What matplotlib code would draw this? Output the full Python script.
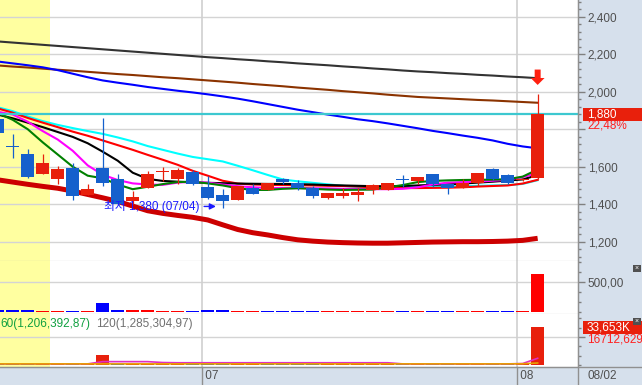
import numpy as np
import matplotlib.pyplot as plt
import matplotlib.transforms as mtransforms
from matplotlib.patches import Rectangle
from matplotlib.lines import Line2D
from matplotlib.ticker import MultipleLocator, FuncFormatter, FixedLocator

plt.rcParams['font.family'] = ['Liberation Sans', 'Noto Sans CJK KR', 'DejaVu Sans']

# daily candles, index 0 is cut off at the left edge, last one is 08/02
opens = [1853, 1708, 1666, 1563, 1536, 1594, 1448, 1594, 1533, 1418, 1485, 1570, 1533,
         1573, 1492, 1449, 1421, 1485, 1474, 1536, 1515, 1485, 1432, 1444, 1449, 1474,
         1474, 1531, 1524, 1563, 1506, 1488, 1515, 1587, 1556, 1530, 1540]
highs = [1865, 1772, 1697, 1666, 1603, 1619, 1509, 1860, 1559, 1471, 1577, 1598, 1594,
         1585, 1550, 1480, 1497, 1506, 1512, 1541, 1529, 1497, 1462, 1485, 1485, 1509,
         1513, 1556, 1545, 1563, 1506, 1533, 1566, 1594, 1563, 1540, 1990]
lows = [1775, 1648, 1538, 1563, 1509, 1423, 1448, 1497, 1395, 1400, 1485, 1524, 1506,
        1500, 1427, 1380, 1421, 1453, 1474, 1506, 1474, 1435, 1427, 1432, 1418, 1456,
        1474, 1492, 1509, 1492, 1456, 1485, 1497, 1530, 1506, 1525, 1535]
closes = [1779, 1704, 1545, 1619, 1586, 1444, 1483, 1515, 1401, 1439, 1563, 1575, 1581,
          1506, 1435, 1418, 1497, 1456, 1512, 1518, 1485, 1444, 1462, 1462, 1465, 1503,
          1513, 1527, 1545, 1506, 1488, 1515, 1566, 1536, 1515, 1535, 1880]

# moving averages
ma_gray = [2268, 2262, 2256, 2250, 2244, 2238, 2232, 2226, 2220, 2214, 2208, 2202, 2196,
           2190, 2184, 2179, 2173, 2168, 2162, 2157, 2151, 2146, 2141, 2135, 2130, 2124,
           2119, 2113, 2108, 2104, 2099, 2095, 2090, 2086, 2081, 2077, 2072]
ma_brown = [2140, 2134, 2129, 2123, 2117, 2112, 2106, 2100, 2094, 2089, 2083, 2077, 2072,
            2066, 2060, 2054, 2048, 2041, 2035, 2029, 2022, 2016, 2010, 2003, 1997, 1991,
            1984, 1978, 1972, 1968, 1964, 1960, 1956, 1953, 1949, 1945, 1941]
ma_blue = [2161, 2151, 2141, 2130, 2115, 2096, 2077, 2060, 2048, 2037, 2025, 2015, 2005,
           1996, 1986, 1975, 1963, 1949, 1934, 1919, 1904, 1891, 1878, 1866, 1853, 1843,
           1831, 1818, 1805, 1791, 1779, 1766, 1754, 1740, 1722, 1708, 1698]
ma_cyan = [1917, 1896, 1868, 1843, 1823, 1806, 1790, 1775, 1756, 1735, 1710, 1690, 1670,
           1652, 1640, 1628, 1605, 1581, 1556, 1532, 1522, 1514, 1506, 1498, 1492, 1490,
           1490, 1490, 1492, 1494, 1495, 1496, 1498, 1500, 1502, 1508, 1528]
ma_red = [1911, 1888, 1860, 1835, 1811, 1787, 1765, 1740, 1715, 1690, 1663, 1637, 1610,
          1578, 1552, 1525, 1510, 1505, 1503, 1502, 1501, 1500, 1498, 1497, 1494, 1490,
          1487, 1486, 1486, 1487, 1488, 1490, 1494, 1497, 1500, 1510, 1530]
ma_black = [1878, 1858, 1835, 1811, 1785, 1759, 1725, 1680, 1632, 1568, 1535, 1524, 1520,
            1516, 1514, 1512, 1510, 1509, 1508, 1508, 1507, 1505, 1502, 1500, 1498, 1496,
            1496, 1497, 1500, 1503, 1506, 1510, 1515, 1520, 1526, 1532, 1555]
ma_magenta = [1893, 1878, 1840, 1790, 1745, 1685, 1607, 1557, 1529, 1511, 1505, 1503, 1515,
              1520, 1515, 1505, 1496, 1490, 1487, 1486, 1486, 1485, 1484, 1482, 1481, 1480,
              1480, 1482, 1490, 1505, 1515, 1518, 1520, 1525, 1530, 1545, 1565]
ma_green = [1886, 1850, 1800, 1730, 1665, 1600, 1552, 1538, 1505, 1480, 1493, 1507, 1518,
            1520, 1511, 1500, 1485, 1476, 1476, 1482, 1485, 1482, 1478, 1476, 1477, 1478,
            1490, 1502, 1518, 1524, 1527, 1529, 1530, 1531, 1533, 1547, 1585]
ma_thick = [1530, 1518, 1506, 1495, 1485, 1470, 1452, 1434, 1415, 1390, 1365, 1351, 1340,
            1330, 1316, 1290, 1265, 1248, 1236, 1222, 1210, 1203, 1198, 1195, 1193, 1192,
            1192, 1194, 1196, 1198, 1199, 1200, 1200, 1201, 1203, 1207, 1218]

# middle panel
panel2 = [35, 35, 35, 18, 18, 18, 18, 160, 35, 35, 35, 18, 18, 18, 35, 35, 18, 18, 18,
          18, 18, 18, 18, 18, 18, 18, 18, 18, 18, 18, 18, 18, 32, 18, 18, 18, 630]
panel2_up = "bbbrrbrbbrrrrbbbrrbbbbrrrrrbrbbrrbbrr"

# bottom panel (volume) and its two averages
panel3 = [600, 600, 600, 600, 600, 600, 600, 8800, 900, 600, 600, 600, 600, 600, 600, 600,
          600, 600, 600, 600, 600, 600, 600, 600, 600, 600, 600, 600, 600, 600, 600, 600,
          600, 600, 600, 700, 33653]
panel3_up = "bbbrrbrrbrrrrbbbrrbbbbrrrrrbrbbrrbbrr"
p3_orange = [1000, 1000, 1000, 1000, 1000, 1000, 1000, 1000, 1000, 1000, 1000, 1000, 1000,
             1000, 1000, 1000, 1000, 1000, 1000, 1000, 1000, 1000, 1000, 1000, 1000, 1000,
             1000, 1000, 1000, 1000, 1000, 1000, 1000, 1000, 1000, 1100, 1800]
p3_magenta = [1000, 1000, 1000, 1000, 1000, 1000, 1000, 3000, 3000, 3000, 3000, 2200, 2000,
              2000, 2000, 2000, 2000, 2000, 2000, 2000, 2000, 2000, 2000, 2000, 2000, 2000,
              2000, 1000, 1000, 1000, 1000, 1000, 1000, 1000, 1000, 1300, 6000]

month_pos = [13.62, 34.6]
month_labels = ["07", "08"]
low_idx, low_val = 15, 1380

RED = '#e8200c'
BLUE = '#1560cc'
STRIP = '#d6e0ec'
W, H = 642, 385

fig = plt.figure(figsize=(W / 100, H / 100), dpi=100)
fig.patch.set_facecolor(STRIP)


def box(x0, y0, x1, y1):
    return [x0 / W, 1 - y1 / H, (x1 - x0) / W, (y1 - y0) / H]


ax1 = fig.add_axes(box(0, 0, 578, 261))
ax2 = fig.add_axes(box(0, 261, 578, 314))
ax3 = fig.add_axes(box(0, 314, 578, 367))

x = np.arange(len(closes))
o, h, l, c = map(np.array, (opens, highs, lows, closes))
ccol = np.where(c >= o, RED, BLUE)

for ax in (ax1, ax2, ax3):
    ax.set_facecolor('white')
    ax.set_xlim(0.153, 38.69)
    ax.set_xticks([])
    ax.axvspan(-1, 3.49, color='#ffffa0', lw=0, zorder=0)
    for mx in month_pos:
        ax.axvline(mx, color='#d0d0d0', lw=1.2, zorder=0.6)
    ax.grid(axis='y', color='#d4d4d4', lw=1)
    ax.set_axisbelow(True)
    ax.yaxis.tick_right()
    for s in ('left', 'top'):
        ax.spines[s].set_visible(False)
    ax.spines['right'].set_color('#909090')
    ax.spines['bottom'].set_color('#a0a0a0')
    ax.tick_params(axis='y', which='major', length=5, width=1, color='#808080', pad=2,
                   labelsize=8.5, labelcolor='#505050')
    ax.tick_params(axis='y', which='minor', length=2.5, width=1, color='#808080')

# price panel
ax1.set_ylim(1097, 2489)
ax1.yaxis.set_major_locator(MultipleLocator(200))
ax1.yaxis.set_minor_locator(MultipleLocator(40))
ax1.yaxis.set_major_formatter(FuncFormatter(lambda v, p: '' if round(v) == 1800 else f'{v:,.0f}'))

ax1.plot(x, ma_thick, color='#cc0000', lw=3.6, zorder=2, solid_capstyle='butt')
for vals, col in [(ma_gray, '#333333'), (ma_brown, '#8b3300'), (ma_blue, '#0000ff'),
                  (ma_cyan, '#00ffff'), (ma_red, '#ff0000'), (ma_black, '#000000'),
                  (ma_magenta, '#ff00ff'), (ma_green, '#008000')]:
    ax1.plot(x, vals, color=col, lw=1.5, zorder=3)
ax1.axhline(c[-1], color='#3cc8d0', lw=1.6, zorder=3.5)

ax1.vlines(x, l, h, colors=ccol, lw=0.9, zorder=4)
ax1.bar(x, np.maximum(np.abs(c - o), 7), bottom=np.minimum(o, c), width=0.87,
        color=ccol, lw=0, zorder=5)

ax1.annotate('최저 1,380 (07/04)', xy=(low_idx - 0.45, low_val + 8), xytext=(-16, 0),
             textcoords='offset pixels', ha='right', va='center', fontsize=8.5,
             color='#1a1aff', zorder=6,
             arrowprops=dict(arrowstyle='-|>', color='#1a1aff', lw=1,
                             mutation_scale=9, shrinkA=1, shrinkB=0))
ax1.annotate('', xy=(x[-1], 2036), xytext=(x[-1], 2118),
             arrowprops=dict(arrowstyle='simple,head_width=1.0,head_length=0.5,tail_width=0.43',
                             mutation_scale=10, fc='#ff2010', ec='none',
                             shrinkA=0, shrinkB=0), zorder=6)

blend1 = mtransforms.blended_transform_factory(fig.transFigure, ax1.transData)
ax1.add_patch(Rectangle((583 / W, c[-1] - 34), 59 / W, 68, transform=blend1,
                        fc=RED, ec='none', clip_on=False, zorder=10))
ax1.text(587 / W, c[-1], f'{c[-1]:,.0f}', transform=blend1, color='white',
         fontsize=8.5, va='center', ha='left', clip_on=False, zorder=11)
ax1.text(587 / W, c[-1] - 62, '22,48%', transform=blend1, color='#ff2020',
         fontsize=8.5, va='center', ha='left', clip_on=False, zorder=11)

# middle panel
ax2.set_ylim(-25, 844)
ax2.yaxis.set_major_locator(FixedLocator([500]))
ax2.yaxis.set_minor_locator(MultipleLocator(500 / 3))
ax2.yaxis.set_major_formatter(FuncFormatter(lambda v, p: '500,00'))
ax2.bar(x, panel2, width=0.87, lw=0, zorder=3,
        color=['#ff0000' if ch == 'r' else '#0000ff' for ch in panel2_up])

# bottom panel
ax3.set_ylim(-1786, 45536)
ax3.yaxis.set_major_locator(FixedLocator([25000]))
ax3.yaxis.set_minor_locator(MultipleLocator(25000 / 3))
ax3.yaxis.set_major_formatter(FuncFormatter(lambda v, p: ''))
ax3.bar(x, panel3, width=0.87, lw=0, zorder=3,
        color=[RED if ch == 'r' else '#1560cc' for ch in panel3_up])
ax3.plot(x, p3_magenta, color='#e030c0', lw=1.2, zorder=4)
ax3.plot(x, p3_orange, color='#e8a000', lw=1.2, zorder=4.5)
ax3.text(0.0, 0.81, '60(1,206,392,87)', transform=ax3.transAxes, color='#10a040',
         fontsize=8.5, va='center', ha='left', zorder=6)
ax3.text(96 / 578, 0.81, '120(1,285,304,97)', transform=ax3.transAxes, color='#707070',
         fontsize=8.5, va='center', ha='left', zorder=6)

blend3 = mtransforms.blended_transform_factory(fig.transFigure, ax3.transData)
ax3.add_patch(Rectangle((583 / W, panel3[-1] - 5600), 59 / W, 11200, transform=blend3,
                        fc=RED, ec='none', clip_on=False, zorder=10))
ax3.text(587 / W, panel3[-1], f'{panel3[-1]:,}K', transform=blend3, color='white',
         fontsize=8.5, va='center', ha='left', clip_on=False, zorder=11)
ax3.text(587 / W, panel3[-1] - 10500, '16712,629', transform=blend3, color='#ff2020',
         fontsize=8.5, va='center', ha='left', clip_on=False, zorder=11)

# close icons on the sub panels
for yy in (265, 318):
    fig.add_artist(Rectangle((633 / W, 1 - (yy + 7) / H), 8 / W, 7 / H,
                             transform=fig.transFigure, fc='#505050', ec='none'))
    fig.text(637 / W, 1 - (yy + 3.5) / H, '×', color='white', fontsize=5,
             ha='center', va='center')

# date axis
blend_d = mtransforms.blended_transform_factory(ax3.transData, ax3.transAxes)
for mx, lab in zip(month_pos, month_labels):
    ax3.plot([mx, mx], [0, -0.34], transform=blend_d, clip_on=False,
             color='#909090', lw=1)
    ax3.text(mx, -0.17, ' ' + lab, transform=blend_d, fontsize=8.5, color='#505050',
             ha='left', va='center')
fig.text(587 / W, 1 - 376 / H, '08/02', fontsize=8.5, color='#505050',
         ha='left', va='center')

fig.add_artist(Line2D([578 / W, 578 / W], [0, 1], transform=fig.transFigure,
                      color='#909090', lw=1))
fig.add_artist(Line2D([0, 1], [1 - 367 / H, 1 - 367 / H], transform=fig.transFigure,
                      color='#909090', lw=1))

fig.savefig('out.png', dpi=100, facecolor=fig.get_facecolor())
